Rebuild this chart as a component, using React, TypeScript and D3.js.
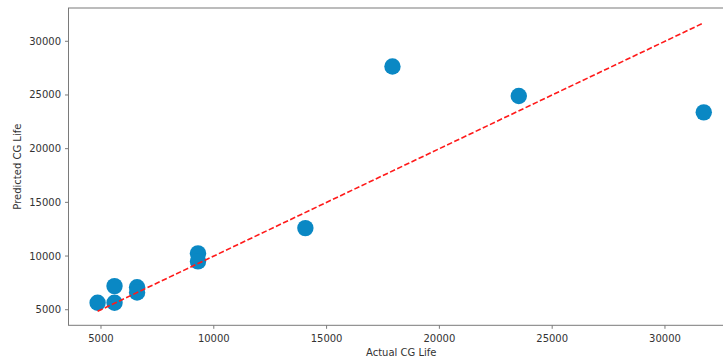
import React from "react";
import * as d3 from "d3";

const actual = [4850, 5600, 5600, 6600, 6600, 9300, 9300, 14060, 17920, 23520, 31720];
const predicted = [5650, 7200, 5650, 7100, 6600, 10250, 9500, 12600, 27650, 24900, 23380];
const xTicks = [5000, 10000, 15000, 20000, 25000, 30000];
const yTicks = [5000, 10000, 15000, 20000, 25000, 30000];
const xLabel = "Actual CG Life";
const yLabel = "Predicted CG Life";

const W = 723;
const H = 361;
const left = 68.5;
const right = 734;
const top = 8;
const bottom = 325.3;

export default function App() {
  const x = d3.scaleLinear().domain([3560, 33060]).range([left, right]);
  const y = d3.scaleLinear().domain([3550, 33100]).range([bottom, top]);
  const lo = d3.min(actual) as number;
  const hi = d3.max(actual) as number;
  const font = "'DejaVu Sans', sans-serif";
  return (
    <div style={{ position: "absolute", left: 0, top: 0 }}>
      <svg width={W} height={H} style={{ display: "block", background: "#fff" }}>
        <defs>
          <clipPath id="plotclip">
            <rect x={left} y={top} width={right - left} height={bottom - top} />
          </clipPath>
        </defs>
        <g clipPath="url(#plotclip)">
          {actual.map((a, i) => (
            <circle key={i} cx={x(a)} cy={y(predicted[i])} r={8.2} fill="#0a88c4" />
          ))}
          <line
            x1={x(lo)}
            y1={y(lo)}
            x2={x(hi)}
            y2={y(hi)}
            stroke="#ff1a1a"
            strokeWidth={1.6}
            strokeDasharray="5.5,2.4"
          />
        </g>
        <rect x={left} y={top} width={right - left} height={bottom - top} fill="none" stroke="#7a7a7a" strokeWidth={1} />
        {xTicks.map((t) => (
          <g key={"x" + t}>
            <line x1={x(t)} x2={x(t)} y1={bottom} y2={bottom + 3.5} stroke="#7a7a7a" />
            <text x={x(t)} y={342} textAnchor="middle" fontFamily={font} fontSize={10} fill="#333">
              {t}
            </text>
          </g>
        ))}
        {yTicks.map((t) => (
          <g key={"y" + t}>
            <line x1={left - 3.5} x2={left} y1={y(t)} y2={y(t)} stroke="#7a7a7a" />
            <text x={61} y={y(t)} dy="0.35em" textAnchor="end" fontFamily={font} fontSize={10} fill="#333">
              {t}
            </text>
          </g>
        ))}
        <text x={(left + right) / 2} y={356} textAnchor="middle" fontFamily={font} fontSize={10} fill="#333">
          {xLabel}
        </text>
        <text
          transform={`translate(20.5, ${(top + bottom) / 2}) rotate(-90)`}
          textAnchor="middle"
          fontFamily={font}
          fontSize={10}
          fill="#333"
        >
          {yLabel}
        </text>
      </svg>
    </div>
  );
}
